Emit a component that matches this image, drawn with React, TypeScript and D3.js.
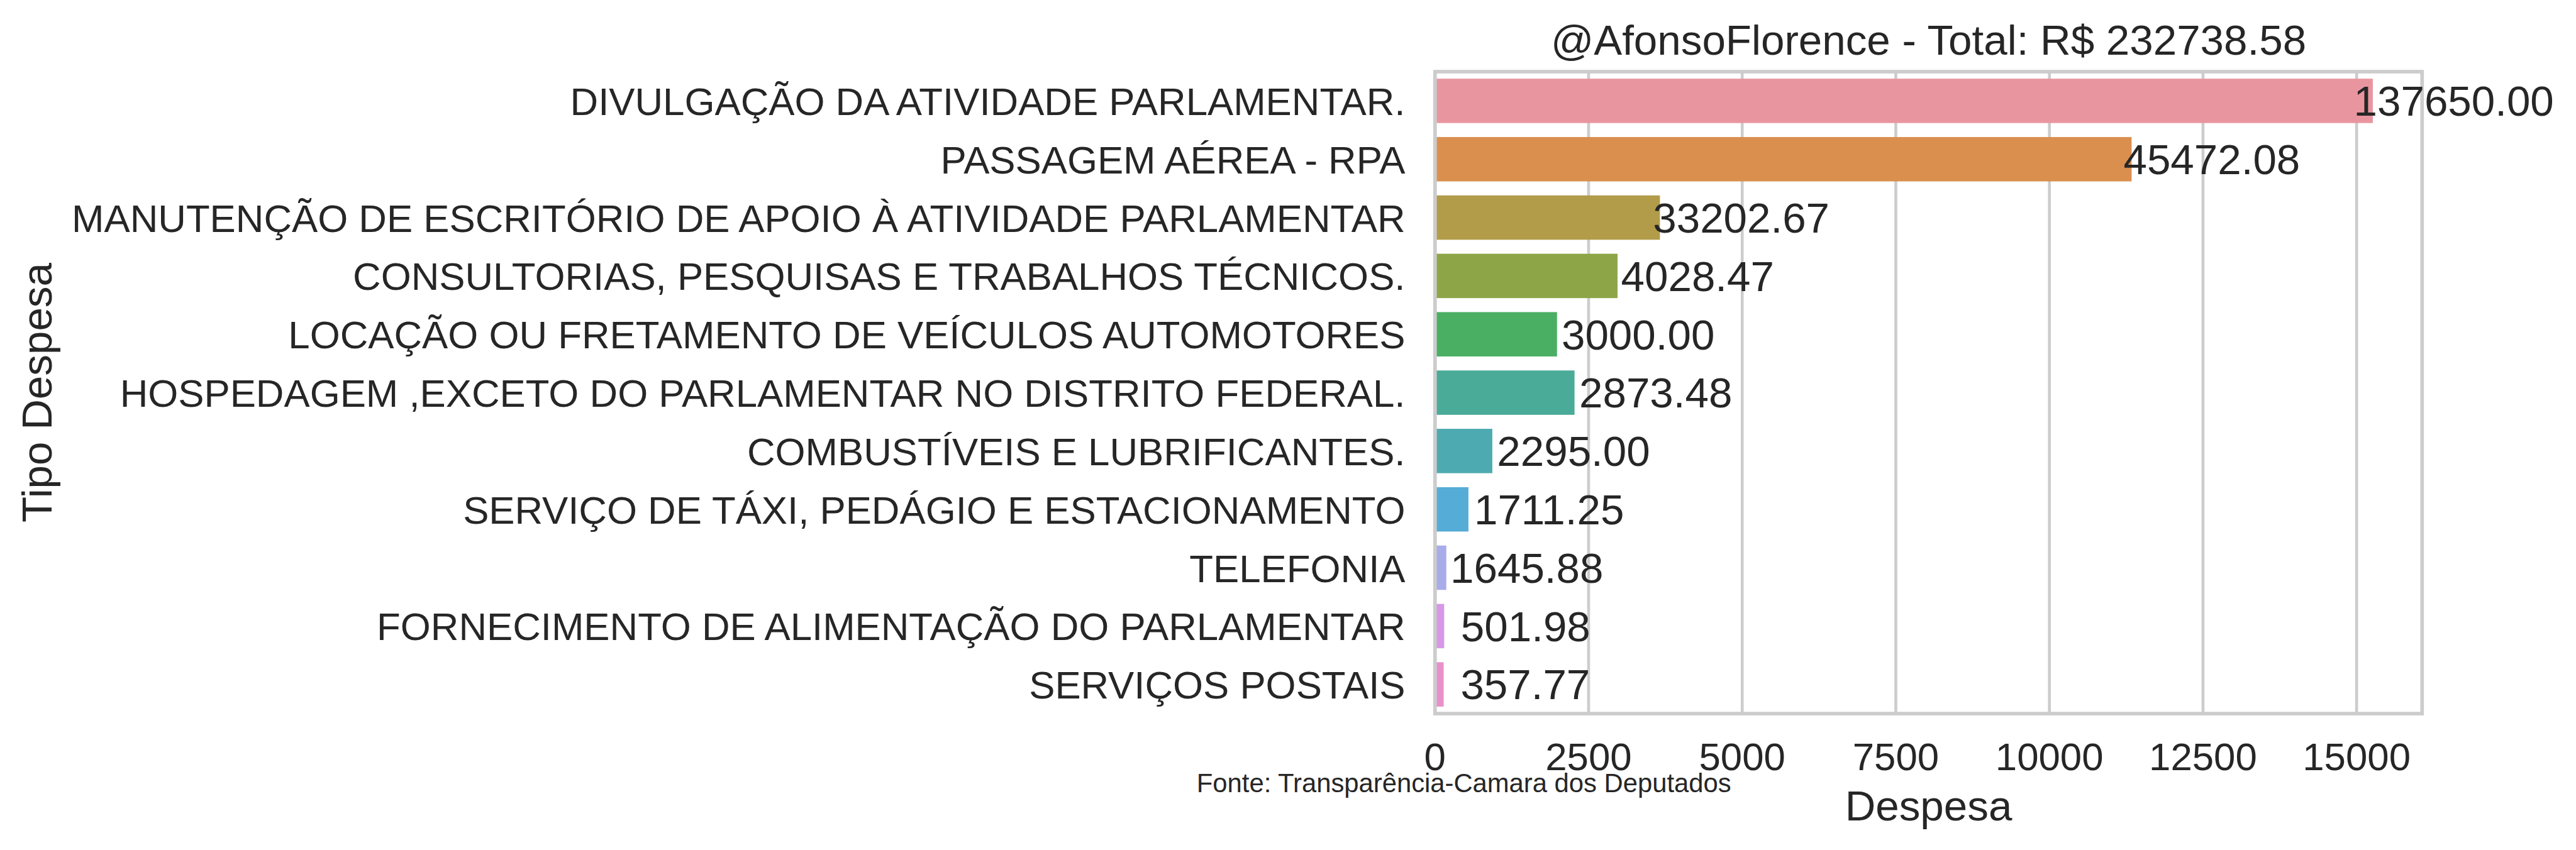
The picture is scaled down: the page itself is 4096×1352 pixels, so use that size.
import React from 'react';
import * as d3 from 'd3';

const categories = [
  'DIVULGAÇÃO DA ATIVIDADE PARLAMENTAR.',
  'PASSAGEM AÉREA - RPA',
  'MANUTENÇÃO DE ESCRITÓRIO DE APOIO À ATIVIDADE PARLAMENTAR',
  'CONSULTORIAS, PESQUISAS E TRABALHOS TÉCNICOS.',
  'LOCAÇÃO OU FRETAMENTO DE VEÍCULOS AUTOMOTORES',
  'HOSPEDAGEM ,EXCETO DO PARLAMENTAR NO DISTRITO FEDERAL.',
  'COMBUSTÍVEIS E LUBRIFICANTES.',
  'SERVIÇO DE TÁXI, PEDÁGIO E ESTACIONAMENTO',
  'TELEFONIA',
  'FORNECIMENTO DE ALIMENTAÇÃO DO PARLAMENTAR',
  'SERVIÇOS POSTAIS',
];

// bar lengths (Despesa units) as drawn in the reference
const barValues = [15264, 11338, 3661, 2971, 1986, 2271, 933, 544, 184, 149, 141];

// annotation texts and the Despesa value at which each text starts
const labelTexts = ['137650.00', '45472.08', '33202.67', '4028.47', '3000.00', '2873.48', '2295.00', '1711.25', '1645.88', '501.98', '357.77'];
const labelAnchors = [14953, 11206, 3547, 3028, 2060, 2347, 1009, 637, 249, 421, 416];

const xTicks = [0, 2500, 5000, 7500, 10000, 12500, 15000];
const xMax = 16066;

const palette = ['#E9959F', '#DA8F4F', '#B29C4A', '#8EA547', '#4AAF63', '#4AAB98', '#4DAAB0', '#55ACD6', '#A8ACEA', '#D897E8', '#E890CB'];

const titleText = '@AfonsoFlorence - Total: R$ 232738.58';
const xLabel = 'Despesa';
const yLabel = 'Tipo Despesa';
const sourceText = 'Fonte: Transparência-Camara dos Deputados';

export default function App() {
  const W = 4854, H = 1602;
  const left = 2704, right = 4564, top = 135, bottom = 1345;
  const font = "'Liberation Sans', Arial, Helvetica, sans-serif";
  const textColor = '#262626';
  const gridColor = '#cccccc';

  const x = d3.scaleLinear().domain([0, xMax]).range([left, right]);
  const y = d3.scaleBand<string>().domain(categories).range([top, bottom]).paddingInner(0.24).paddingOuter(0.12);
  const center = (c: string) => (y(c) as number) + y.bandwidth() / 2;

  const tickFs = 73.2;
  const labelFs = 79.8;

  return (
    <svg width={4096} height={1352} viewBox={`0 0 ${W} ${H}`} style={{ position: 'absolute', left: 0, top: 0, background: '#fff' }} fontFamily={font}>
      <rect x={0} y={0} width={W} height={H} fill="#ffffff" />
      {xTicks.map((t) => (
        <line key={'g' + t} x1={x(t)} x2={x(t)} y1={top} y2={bottom} stroke={gridColor} strokeWidth={5.45} />
      ))}
      {categories.map((c, i) => (
        <rect key={'b' + i} x={x(0)} y={y(c)} width={x(barValues[i]) - x(0)} height={y.bandwidth()} fill={palette[i]} />
      ))}
      <rect x={left} y={top} width={right - left} height={bottom - top} fill="none" stroke={gridColor} strokeWidth={6.8} />
      {categories.map((c, i) => (
        <text key={'t' + i} x={left - 56} y={center(c) + 0.358 * 74.6} textAnchor="end" fontSize={tickFs} fill={textColor}>{c}</text>
      ))}
      {xTicks.map((t) => (
        <text key={'xt' + t} x={x(t)} y={1452} textAnchor="middle" fontSize={tickFs} fill={textColor}>{t}</text>
      ))}
      {categories.map((c, i) => (
        <text key={'a' + i} x={x(labelAnchors[i])} y={center(c) + 0.358 * 81.8 - 1} fontSize={labelFs} fill={textColor}>{labelTexts[i]}</text>
      ))}
      <text x={(left + right) / 2} y={103.3} textAnchor="middle" fontSize={labelFs} fill={textColor}>{titleText}</text>
      <text x={(left + right) / 2} y={1547} textAnchor="middle" fontSize={labelFs} fill={textColor}>{xLabel}</text>
      <text transform={`translate(97,${(top + bottom) / 2}) rotate(-90)`} textAnchor="middle" fontSize={labelFs} fill={textColor}>{yLabel}</text>
      <text x={2255} y={1493} fontSize={49.5} fill={textColor}>{sourceText}</text>
    </svg>
  );
}
